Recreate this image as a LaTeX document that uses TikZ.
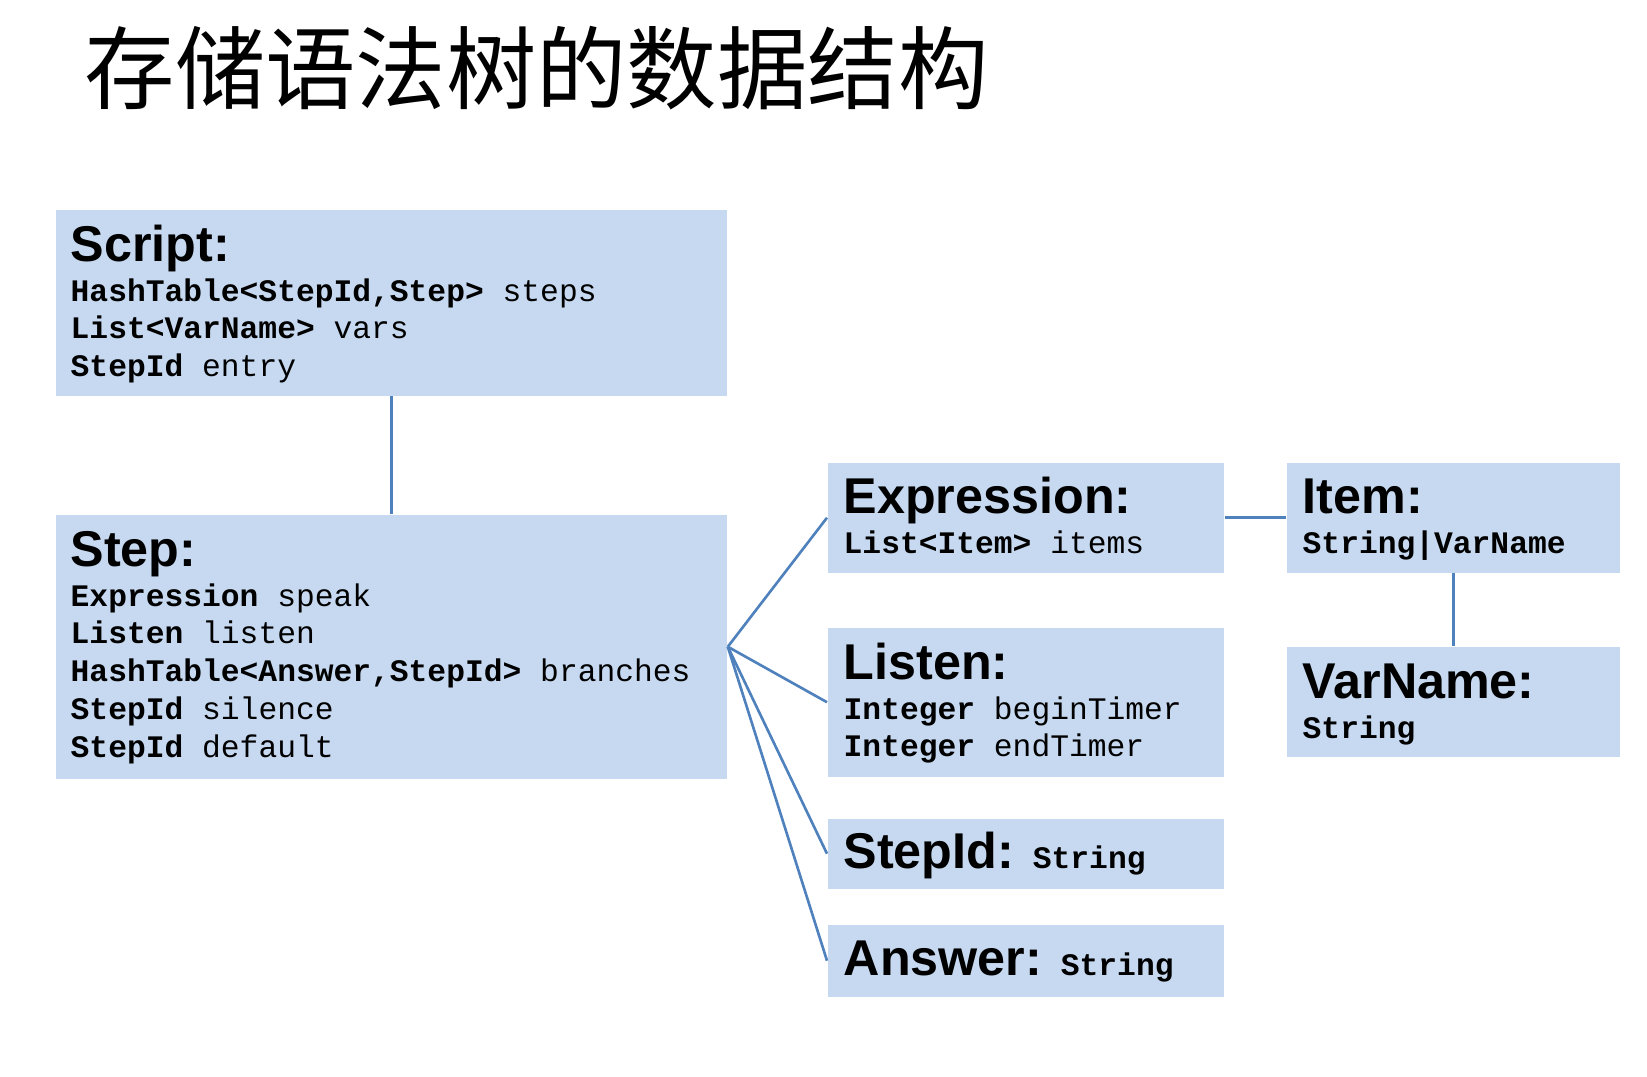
\documentclass[tikz,border=0pt]{standalone}
\usepackage{fontspec}
\setmainfont{Liberation Sans}
\setmonofont{Liberation Mono}
\newfontfamily\cjk{Noto Sans CJK SC}

\definecolor{boxblue}{HTML}{C6D9F0}
\definecolor{lineblue}{HTML}{4F81BD}

\newcommand{\hd}[1]{{\fontsize{14.3pt}{17pt}\selectfont\rmfamily\bfseries #1}}
\newcommand{\ty}[1]{\textbf{#1}}

\begin{document}
\begin{tikzpicture}[x=0.01cm,y=-0.01cm,
    box/.style={fill=boxblue, draw=none, inner sep=0pt, anchor=north west},
    txt/.style={anchor=base west, inner sep=0pt, font=\fontsize{8.9pt}{10.8pt}\selectfont\ttfamily},
    link/.style={lineblue, line width=0.75pt}]

\useasboundingbox (0,0) rectangle (1647,1077);

% title
\node[anchor=base west, inner sep=0pt, font=\cjk\fontsize{25.7pt}{30pt}\selectfont] (title) at (84,103) {存储语法树的数据结构};

% boxes
\foreach \n/\x/\y/\w/\h in {script/55/209/6.71/1.86, step/55/514/6.71/2.64,
    expr/827/462/3.96/1.10, listen/827/627/3.96/1.49, stepid/827/818/3.96/0.70,
    answer/827/924/3.96/0.72, item/1286/462/3.33/1.10, varname/1286/646/3.33/1.10}
{
    \node[box, minimum width=\w cm, minimum height=\h cm] (\n) at (\x,\y) {};
}

% texts
\node[txt] (scripttxt) at (70,262) {\begin{tabular}[t]{@{}l@{}}\hd{Script:}\\[0.3pt]
    \ty{HashTable<StepId,Step>} steps\\
    \ty{List<VarName>} vars\\
    \ty{StepId} entry\end{tabular}};
\node[txt] (steptxt) at (70,567) {\begin{tabular}[t]{@{}l@{}}\hd{Step:}\\[0.3pt]
    \ty{Expression} speak\\
    \ty{Listen} listen\\
    \ty{HashTable<Answer,StepId>} branches\\
    \ty{StepId} silence\\
    \ty{StepId} default\end{tabular}};
\node[txt] (exprtxt) at (843,514) {\begin{tabular}[t]{@{}l@{}}\hd{Expression:}\\[0.3pt]
    \ty{List<Item>} items\end{tabular}};
\node[txt] (listentxt) at (843,680) {\begin{tabular}[t]{@{}l@{}}\hd{Listen:}\\[0.3pt]
    \ty{Integer} beginTimer\\
    \ty{Integer} endTimer\end{tabular}};
\node[txt] (stepidtxt) at (843,869) {\hd{StepId:} \ty{String}};
\node[txt] (answertxt) at (843,976) {\hd{Answer:} \ty{String}};
\node[txt] (itemtxt) at (1302,514) {\begin{tabular}[t]{@{}l@{}}\hd{Item:}\\[0.3pt]
    \ty{String|VarName}\end{tabular}};
\node[txt] (varnametxt) at (1302,699) {\begin{tabular}[t]{@{}l@{}}\hd{VarName:}\\[0.3pt]
    \ty{String}\end{tabular}};

% links
\draw[link] (script.south) -- (step.north);
\foreach \t in {expr,listen,stepid,answer}
{
    \draw[link] (step.east) -- (\t.west);
}
\draw[link] (expr.east) -- (item.west);
\draw[link] (item.south) -- (varname.north);

\end{tikzpicture}
\end{document}
